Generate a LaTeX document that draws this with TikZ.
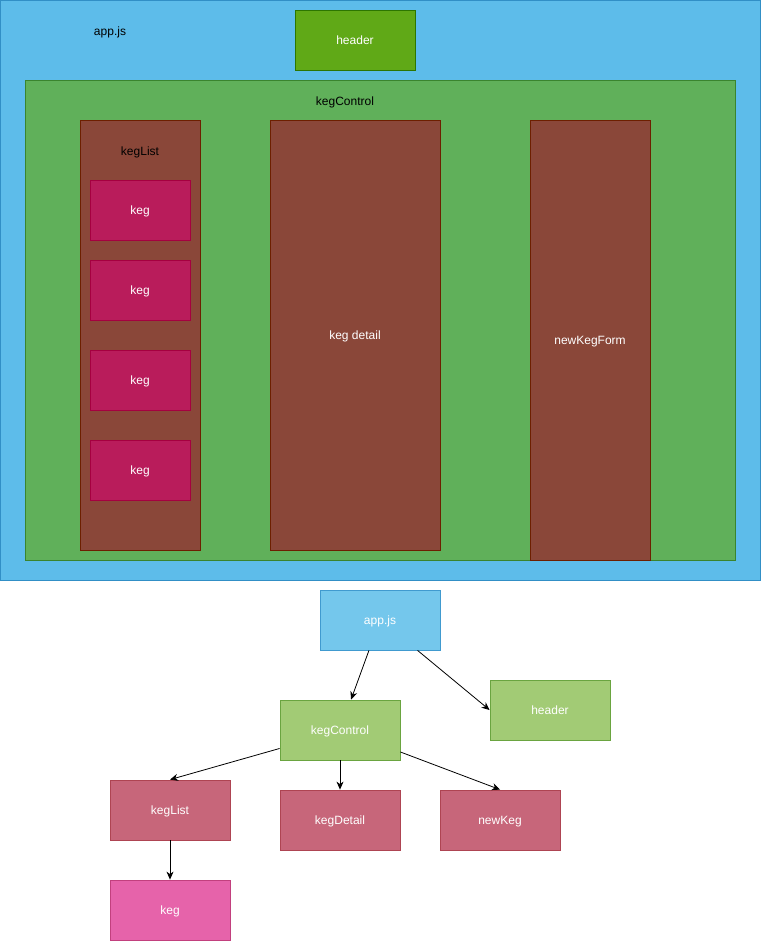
\documentclass[tikz,border=0pt]{standalone}
\usepackage{fontspec}
\setmainfont{Liberation Sans}
\usetikzlibrary{arrows.meta}

\definecolor{appblue}{RGB}{93,188,234}
\definecolor{appblueline}{RGB}{49,143,198}
\definecolor{hdrgreen}{RGB}{96,169,23}
\definecolor{hdrgreenline}{RGB}{45,118,0}
\definecolor{ctlgreen}{RGB}{96,176,90}
\definecolor{ctlgreenline}{RGB}{58,132,46}
\definecolor{kegbrown}{RGB}{138,71,57}
\definecolor{kegbrownline}{RGB}{109,31,0}
\definecolor{kegred}{RGB}{185,28,91}
\definecolor{kegredline}{RGB}{165,0,64}
\definecolor{lightblue}{RGB}{116,199,236}
\definecolor{lightblueline}{RGB}{64,154,207}
\definecolor{lightgreen}{RGB}{162,203,117}
\definecolor{lightgreenline}{RGB}{106,164,64}
\definecolor{rose}{RGB}{199,102,122}
\definecolor{roseline}{RGB}{174,68,82}
\definecolor{pinkbox}{RGB}{230,99,170}
\definecolor{pinkboxline}{RGB}{194,64,126}

\tikzset{
  lbl/.style={font=\fontsize{12}{14}\selectfont, inner sep=0pt,
    text height=9.8pt, text depth=0pt},
  box/.style={lbl, draw, line width=0.8pt, rectangle, text=white,
    minimum width=120pt, minimum height=60pt},
  kegbox/.style={box, fill=kegred, draw=kegredline, minimum width=100pt},
  link/.style={line width=0.8pt, -{Stealth[length=8pt,width=7pt,inset=2.5pt]}}
}

\begin{document}
\begin{tikzpicture}[x=1pt,y=-1pt]
\useasboundingbox (0,0) rectangle (761,941);

% layout of the page
\draw[fill=appblue, draw=appblueline, line width=0.8pt] (0.5,0.5) rectangle (760.5,580.5);
\node[lbl] (appjslbl) at (110,31) {app.js};
\node[box, fill=hdrgreen, draw=hdrgreenline] (headerbox) at (355,40) {header};

\draw[fill=ctlgreen, draw=ctlgreenline, line width=0.8pt] (25,80) rectangle (735,560);
\node[lbl] (ctllbl) at (345,101) {kegControl};

% kegList
\draw[fill=kegbrown, draw=kegbrownline, line width=0.8pt] (80,120) rectangle (200,550);
\node[lbl] (listlbl) at (140,151) {kegList};
\foreach \y/\n in {210/1,290/2,380/3,470/4}
  \node[kegbox] (keg\n) at (140,\y) {keg};

% keg detail
\node[box, fill=kegbrown, draw=kegbrownline, minimum width=170pt,
  minimum height=430pt] (detailbox) at (355,335) {keg detail};

% newKegForm
\node[box, fill=kegbrown, draw=kegbrownline,
  minimum height=440pt] (formbox) at (590,340) {newKegForm};

% component tree
\node[box, fill=lightblue, draw=lightblueline] (appjs) at (380,620) {app.js};
\node[box, fill=lightgreen, draw=lightgreenline] (kegctl) at (340,730) {kegControl};
\node[box, fill=lightgreen, draw=lightgreenline] (header) at (550,710) {header};
\node[box, fill=rose, draw=roseline] (keglist) at (170,810) {kegList};
\node[box, fill=rose, draw=roseline] (kegdetail) at (340,820) {kegDetail};
\node[box, fill=rose, draw=roseline] (newkeg) at (500,820) {newKeg};
\node[box, fill=pinkbox, draw=pinkboxline] (keg) at (170,910) {keg};

\draw[link] (appjs) -- (kegctl);
\draw[link] (appjs.-39) -- (header.west);
\draw[link] (kegctl.-163) -- (keglist.north);
\draw[link] (kegctl.south) -- (kegdetail.north);
\draw[link] (kegctl.-20) -- (newkeg.north);
\draw[link] (keglist.south) -- (keg.north);

\end{tikzpicture}
\end{document}
